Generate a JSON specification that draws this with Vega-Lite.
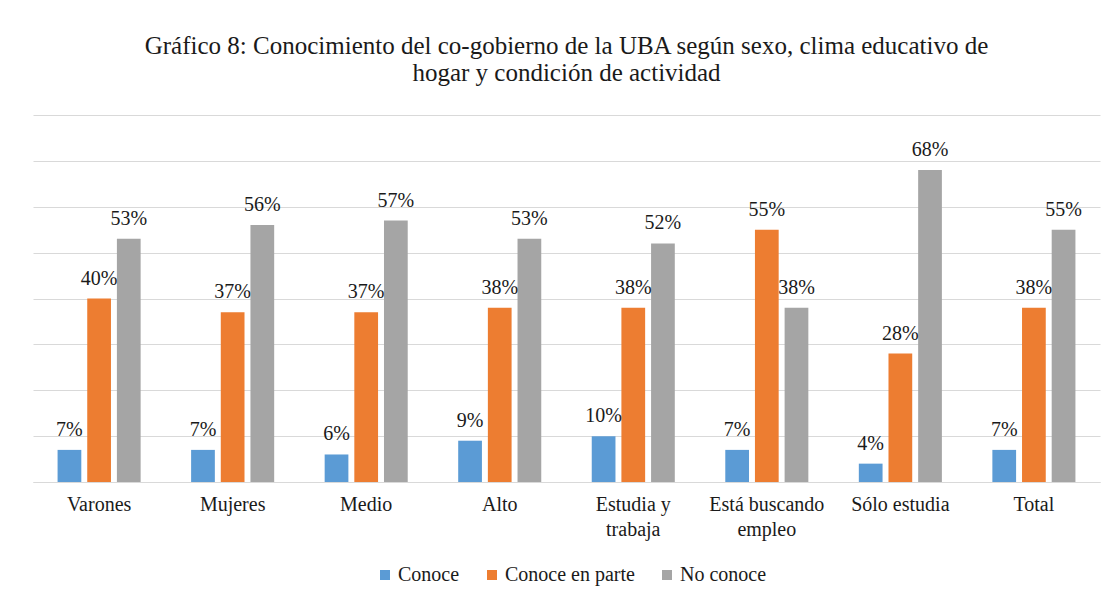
{
  "$schema": "https://vega.github.io/schema/vega-lite/v6.json",
  "width": 1067,
  "height": 367,
  "autosize": {"type": "none"},
  "padding": {"left": 33, "top": 115, "right": 12, "bottom": 115},
  "background": "white",
  "title": {
    "text": ["Gráfico  8: Conocimiento  del co-gobierno de la UBA según  sexo, clima  educativo  de", "hogar y condición  de actividad"],
    "font": "Liberation Serif",
    "fontSize": 25,
    "fontWeight": "normal",
    "color": "#1a1a1a",
    "lineHeight": 27,
    "offset": 29,
    "anchor": "middle"
  },
  "config": {
    "view": {"stroke": null},
    "font": "Liberation Serif"
  },
  "data": {
    "values": [
      {"grupo": "Varones", "serie": "Conoce", "valor": 0.07},
      {"grupo": "Varones", "serie": "Conoce en parte", "valor": 0.40},
      {"grupo": "Varones", "serie": "No conoce", "valor": 0.53},
      {"grupo": "Mujeres", "serie": "Conoce", "valor": 0.07},
      {"grupo": "Mujeres", "serie": "Conoce en parte", "valor": 0.37},
      {"grupo": "Mujeres", "serie": "No conoce", "valor": 0.56},
      {"grupo": "Medio", "serie": "Conoce", "valor": 0.06},
      {"grupo": "Medio", "serie": "Conoce en parte", "valor": 0.37},
      {"grupo": "Medio", "serie": "No conoce", "valor": 0.57},
      {"grupo": "Alto", "serie": "Conoce", "valor": 0.09},
      {"grupo": "Alto", "serie": "Conoce en parte", "valor": 0.38},
      {"grupo": "Alto", "serie": "No conoce", "valor": 0.53},
      {"grupo": "Estudia y trabaja", "serie": "Conoce", "valor": 0.10},
      {"grupo": "Estudia y trabaja", "serie": "Conoce en parte", "valor": 0.38},
      {"grupo": "Estudia y trabaja", "serie": "No conoce", "valor": 0.52},
      {"grupo": "Está buscando empleo", "serie": "Conoce", "valor": 0.07},
      {"grupo": "Está buscando empleo", "serie": "Conoce en parte", "valor": 0.55},
      {"grupo": "Está buscando empleo", "serie": "No conoce", "valor": 0.38},
      {"grupo": "Sólo estudia", "serie": "Conoce", "valor": 0.04},
      {"grupo": "Sólo estudia", "serie": "Conoce en parte", "valor": 0.28},
      {"grupo": "Sólo estudia", "serie": "No conoce", "valor": 0.68},
      {"grupo": "Total", "serie": "Conoce", "valor": 0.07},
      {"grupo": "Total", "serie": "Conoce en parte", "valor": 0.38},
      {"grupo": "Total", "serie": "No conoce", "valor": 0.55}
    ]
  },
  "encoding": {
    "x": {
      "field": "grupo",
      "type": "nominal",
      "sort": null,
      "scale": {"paddingInner": 0.378, "paddingOuter": 0.184},
      "axis": {
        "title": null,
        "labelAngle": 0,
        "labelFont": "Liberation Serif",
        "labelFontSize": 20,
        "labelColor": "#1a1a1a",
        "labelPadding": 12,
        "labelLineHeight": 25,
        "ticks": false,
        "domainColor": "#D9D9D9",
        "labelExpr": "datum.value == 'Estudia y trabaja' ? ['Estudia y', 'trabaja'] : datum.value == 'Está buscando empleo' ? ['Está buscando', 'empleo'] : datum.value"
      }
    },
    "xOffset": {
      "field": "serie",
      "type": "nominal",
      "sort": ["Conoce", "Conoce en parte", "No conoce"],
      "scale": {"paddingInner": 0.2, "paddingOuter": 0}
    },
    "y": {
      "field": "valor",
      "type": "quantitative",
      "scale": {"domain": [0, 0.8], "nice": false},
      "axis": {
        "values": [0, 0.1, 0.2, 0.3, 0.4, 0.5, 0.6, 0.7, 0.8],
        "labels": false,
        "ticks": false,
        "domain": false,
        "title": null,
        "gridColor": "#D9D9D9"
      }
    }
  },
  "layer": [
    {
      "mark": {"type": "bar"},
      "encoding": {
        "color": {
          "field": "serie",
          "type": "nominal",
          "sort": ["Conoce", "Conoce en parte", "No conoce"],
          "scale": {"domain": ["Conoce", "Conoce en parte", "No conoce"], "range": ["#5B9BD5", "#ED7D31", "#A5A5A5"]},
          "legend": {
            "title": null,
            "orient": "none",
            "legendX": 342,
            "legendY": 450,
            "direction": "horizontal",
            "symbolType": "square",
            "symbolSize": 100,
            "symbolStrokeWidth": 0,
            "labelFont": "Liberation Serif",
            "labelFontSize": 20,
            "labelColor": "#1a1a1a",
            "columnPadding": 22,
            "labelOffset": 3
          }
        }
      }
    },
    {
      "mark": {
        "type": "text",
        "baseline": "bottom",
        "dy": -10,
        "font": "Liberation Serif",
        "fontSize": 20,
        "color": "#1a1a1a"
      },
      "encoding": {
        "text": {"field": "valor", "type": "quantitative", "format": ".0%"}
      }
    }
  ]
}
